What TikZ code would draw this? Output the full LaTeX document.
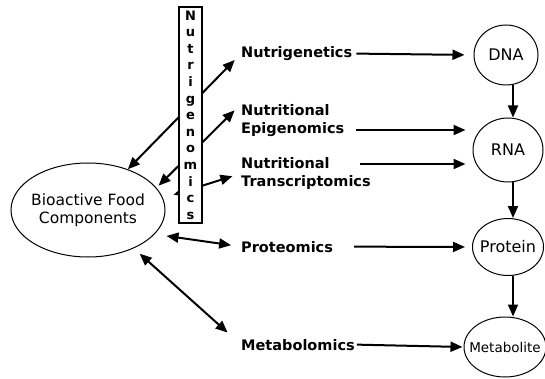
\documentclass[tikz,border=0pt]{standalone}
\usepackage{fontspec}
\setmainfont{DejaVu Sans}
\usetikzlibrary{shapes.geometric,arrows.meta,positioning}

\begin{document}
\begin{tikzpicture}[x=1pt, y=-1pt,
    oval/.style={ellipse, draw, line width=1pt, inner sep=0pt, inner xsep=-8pt,
                 align=center, font=\fontsize{16}{18}\selectfont},
    lbl/.style={inner sep=0pt, align=left, font=\fontsize{14.5}{18.5}\selectfont\bfseries},
    arr/.style={line width=2pt, -{Triangle[length=12pt,width=10pt]}},
    dbl/.style={line width=2pt, {Triangle[length=12pt,width=10pt]}-{Triangle[length=12pt,width=10pt]}}]
    \useasboundingbox (0,0) rectangle (545,379);
    % food components and molecules
    \node[oval, minimum width=154pt, minimum height=94pt, inner xsep=-5pt,
          font=\fontsize{15.5}{18}\selectfont] (bfc) at (88,210) {Bioactive Food\\Components};
    \node[oval, minimum width=64pt, minimum height=60pt] (dna) at (506,55) {DNA};
    \node[oval, minimum width=70pt, minimum height=64pt] (rna) at (508,150) {RNA};
    \node[oval, minimum width=71pt, minimum height=57pt] (prot) at (508,247) {Protein};
    \node[oval, minimum width=82pt, minimum height=60pt,
          font=\fontsize{13.5}{16}\selectfont] (metab) at (505,347) {Metabolite};
    % omics labels
    \node[lbl, anchor=base west] (ngen) at (241,57.5) {Nutrigenetics};
    \node[lbl, anchor=north west] (nepi) at (241,104) {Nutritional\\Epigenomics};
    \node[lbl, anchor=north west] (ntra) at (241,157) {Nutritional\\Transcriptomics};
    \node[lbl, anchor=base west] (nprot) at (241,252) {Proteomics};
    \node[lbl, anchor=base west] (nmet) at (241,350) {Metabolomics};
    % arrows behind the nutrigenomics bar
    \draw[dbl, shorten >=9pt] (bfc) -- (ngen.west);
    \draw[dbl, shorten <=3pt, shorten >=9pt] (bfc.18) -- (nepi.north west);
    \draw[dbl, shorten <=11pt, shorten >=9pt] (bfc.9) -- (ntra.west);
    \node[draw, line width=1.2pt, fill=white, minimum width=23pt, minimum height=216pt,
          inner sep=0pt, align=center, font=\fontsize{13}{16.6}\selectfont\bfseries]
        (ngx) at (190.5,115) {N\\u\\t\\r\\i\\g\\e\\n\\o\\m\\i\\c\\s};
    \draw[dbl, shorten <=12pt, shorten >=10pt] (bfc.-20) -- (nprot.west);
    \draw[dbl, shorten <=8pt, shorten >=18pt] (bfc.-40) -- (nmet.west);
    % omics to molecules
    \coordinate (epiA) at ([yshift=-9.5pt]nepi.east);
    \coordinate (traA) at ([xshift=-11pt,yshift=-7pt]ntra.north east);
    \draw[arr, shorten <=4pt, shorten >=9pt] (ngen.east) -- (dna.west);
    \draw[arr, shorten <=12pt, shorten >=7pt] (epiA) -- (epiA -| rna.west);
    \draw[arr, shorten >=7pt] (traA) -- (traA -| rna.west);
    \draw[arr, shorten <=21pt, shorten >=7pt] (nprot.east) -- (prot.west);
    \draw[arr, shorten <=2pt, shorten >=1pt] (nmet.east) -- (metab.west);
    % central dogma
    \draw[arr] ([xshift=7pt]dna.south) -- ([xshift=5pt]rna.north);
    \draw[arr] ([xshift=5pt]rna.south) -- ([xshift=5pt]prot.north);
    \draw[arr] ([xshift=5pt]prot.south) -- ([xshift=8pt]metab.north);
\end{tikzpicture}
\end{document}
